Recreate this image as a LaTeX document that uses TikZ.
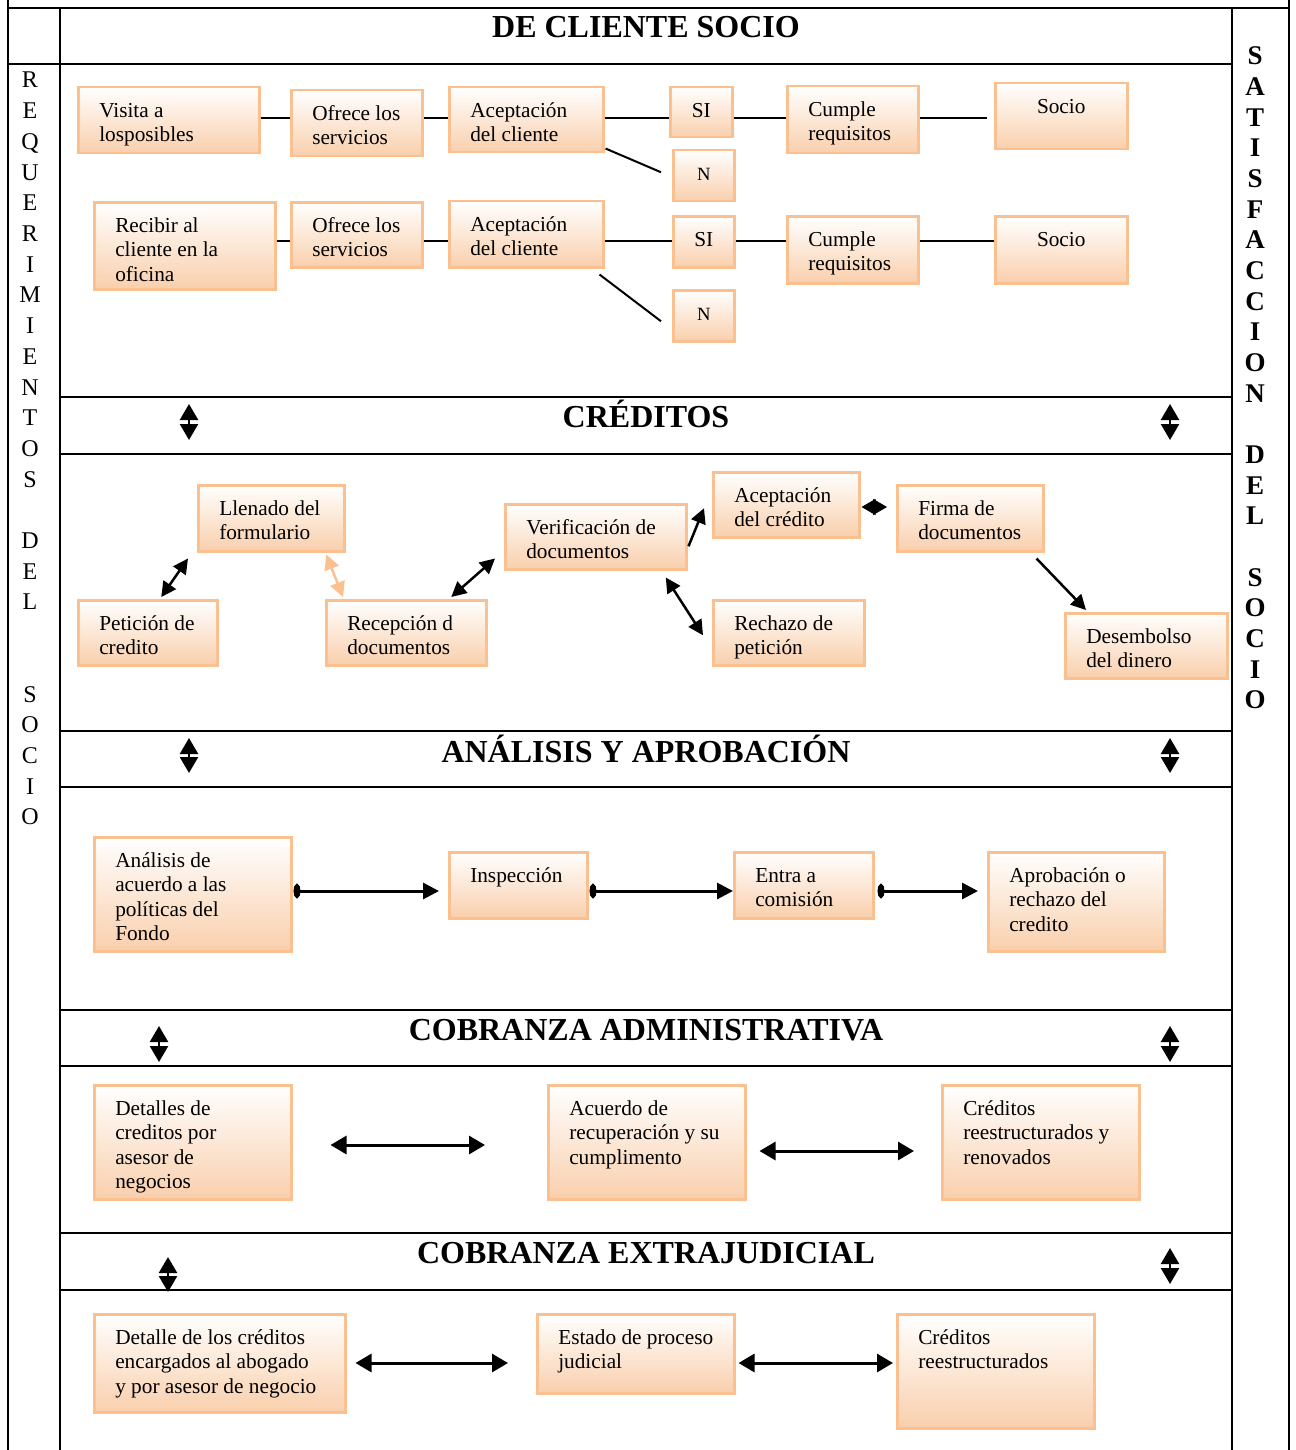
\documentclass[tikz,border=0pt]{standalone}
\usepackage{fontspec}
\setmainfont{Liberation Serif}
\usetikzlibrary{arrows.meta,calc}
\definecolor{bbord}{RGB}{250,192,143}
\definecolor{bfill}{RGB}{249,207,172}
\newcommand{\LA}{\raggedright\leftskip=21pt\relax\hyphenpenalty=10000 }
\newcommand{\CA}{\centering}
\newcommand{\bx}[7]{%
  \pgfmathsetmacro{\bw}{#4-#2}\pgfmathsetmacro{\bh}{#5-#3}%
  \node[box, minimum width=\bw pt, minimum height=\bh pt] (#1) at (#2,#3)
    {\parbox[t][\bh pt][t]{\bw pt}{#6\rule{0pt}{30pt}#7}};}
\tikzset{
  box/.style={draw=bbord, line width=2.5pt, top color=white, bottom color=bfill,
    inner sep=0pt, anchor=north west, font=\fontsize{21.3}{24.5}\selectfont},
  tbl/.style={line width=2.6pt},
  ln/.style={line width=2pt},
  ttl/.style={anchor=base, font=\bfseries\fontsize{32}{38}\selectfont},
  lletter/.style={anchor=base, font=\fontsize{24}{28}\selectfont},
  rletter/.style={anchor=base, font=\bfseries\fontsize{27}{30}\selectfont},
  dar/.style={line width=2.5pt, {Triangle[length=15pt,width=15pt]}-{Triangle[length=15pt,width=15pt]}},
  sar/.style={line width=2.5pt, -{Triangle[length=15pt,width=15pt]}},
  vdar/.style={line width=2.5pt, {Triangle[length=16pt,width=18pt]}-{Triangle[length=16pt,width=18pt]}},
  hdar/.style={line width=3pt, {Triangle[length=16pt,width=18pt]}-{Triangle[length=16pt,width=18pt]}},
  tar/.style={line width=3pt, {Circle[length=7pt,width=14pt]}-{Triangle[length=16pt,width=16pt]}},
  dia/.style={line width=1pt, {Triangle[length=14pt,width=16pt]}-{Triangle[length=14pt,width=16pt]}},
}
\begin{document}
\begin{tikzpicture}[x=1pt,y=-1pt]
\useasboundingbox (0,0) rectangle (1295,1450);
% table frame
\draw[tbl] (8,0) -- (8,1450);
\draw[tbl] (1289,0) -- (1289,1450);
\draw[tbl] (8,8) -- (1289,8);
\draw[tbl] (60,8) -- (60,1450);
\draw[tbl] (1232,8) -- (1232,1450);
\draw[tbl] (8,64) -- (1232,64);
\foreach \yy in {397,454,731,787,1010,1066,1233,1290}
  \draw[tbl] (60,\yy) -- (1232,\yy);
% titles
\node[ttl] (t0) at (646,38) {DE CLIENTE SOCIO};
\node[ttl] (t1) at (646,427) {CRÉDITOS};
\node[ttl] (t2) at (646,762) {ANÁLISIS Y APROBACIÓN};
\node[ttl] (t3) at (646,1040) {COBRANZA ADMINISTRATIVA};
\node[ttl] (t4) at (646,1263) {COBRANZA EXTRAJUDICIAL};
% side letters
\foreach \ch [count=\i from 0] in {R,E,Q,U,E,R,I,M,I,E,N,T,O,S,{},D,E,L,{},{},S,O,C,I,O}
  \node[lletter] (L\i) at (30,88+30.7*\i) {\ch};
\foreach \ch [count=\i from 0] in {S,A,T,I,S,F,A,C,C,I,O,N,{},D,E,L,{},S,O,C,I,O}
  \node[rletter] (R\i) at (1255,65+30.65*\i) {\ch};
% band arrows
\foreach \xx/\ya/\yb [count=\k] in {189/404/440,1170/404/440,189/738/773,1170/738/773,159/1026/1062,1170/1026/1062,168/1257/1292,1170/1248/1284}{
  \coordinate (ba\k) at (\xx,\ya); \coordinate (bb\k) at (\xx,\yb);
  \draw[vdar] (ba\k) -- (bb\k);}
% ---- top section
\bx{visita}{77}{86}{258}{152}{\LA}{Visita a\\losposibles}
\bx{ofreceA}{290}{89}{421}{155}{\LA}{Ofrece los\\servicios}
\bx{aceptA}{448}{86}{602}{151}{\LA}{Aceptación\\del cliente}
\bx{siA}{669}{86}{731}{136}{\CA}{SI}
\bx{nA}{672}{149}{733}{200}{\CA}{\fontsize{18.7}{22}\selectfont N}
\bx{cumpleA}{786}{85}{917}{152}{\LA}{Cumple\\requisitos}
\bx{socioA}{994}{82}{1126}{148}{\CA}{Socio}
\bx{recibir}{93}{201}{274}{288}{\LA}{Recibir al\\cliente en la\\oficina}
\bx{ofreceB}{290}{201}{421}{266}{\LA}{Ofrece los\\servicios}
\bx{aceptB}{448}{200}{602}{266}{\LA}{Aceptación\\del cliente}
\bx{siB}{672}{215}{733}{266}{\CA}{SI}
\bx{nB}{672}{289}{733}{340}{\CA}{\fontsize{18.7}{22}\selectfont N}
\bx{cumpleB}{786}{215}{917}{282}{\LA}{Cumple\\requisitos}
\bx{socioB}{994}{215}{1126}{282}{\CA}{Socio}
\coordinate (r1) at (0,118);
\coordinate (r2) at (0,240.5);
\draw[ln] (visita.east |- r1) -- (ofreceA.west |- r1);
\draw[ln] (ofreceA.east |- r1) -- (aceptA.west |- r1);
\draw[ln] (aceptA.east |- r1) -- (siA.west |- r1);
\draw[ln] (siA.east |- r1) -- (cumpleA.west |- r1);
\draw[ln, shorten >=7pt] (cumpleA.east |- r1) -- (socioA.west |- r1);
\draw[ln] ($(aceptA.south east)+(1,-5)$) -- ($(nA.west)+(-11,-3.5)$);
\draw[ln] (recibir.east |- r2) -- (ofreceB.west |- r2);
\draw[ln] (ofreceB.east |- r2) -- (aceptB.west |- r2);
\draw[ln] (aceptB.east |- r2) -- (siB.west |- r2);
\draw[ln] (siB.east |- r2) -- (cumpleB.west |- r2);
\draw[ln] (cumpleB.east |- r2) -- (socioB.west |- r2);
\draw[ln] ($(aceptB.south east)+(-5,6)$) -- ($(nB.west)+(-11,5.5)$);
% ---- creditos
\bx{peticion}{77}{599}{216}{664}{\LA}{Petición de\\credito}
\bx{llenado}{197}{484}{343}{550}{\LA}{Llenado del\\formulario}
\bx{recepcion}{325}{599}{485}{664}{\LA}{Recepción d\\documentos}
\bx{verif}{504}{503}{685}{568}{\LA}{Verificación de\\documentos}
\bx{aceptC}{712}{471}{858}{536}{\LA}{Aceptación\\del crédito}
\bx{rechazo}{712}{599}{863}{664}{\LA}{Rechazo de\\petición}
\bx{firma}{896}{484}{1042}{550}{\LA}{Firma de\\documentos}
\bx{desemb}{1064}{612}{1226}{677}{\LA}{Desembolso\\del dinero}
\draw[dar] ($(peticion.north)+(13.5,-2)$) -- ($(llenado.south west)+(-9,6)$);
\draw[dar, draw=bbord, fill=bbord] ($(llenado.south)+(55,2)$) -- ($(recepcion.north west)+(18,-2)$);
\draw[dar] ($(recepcion.north)+(45,-2)$) -- ($(verif.south west)+(-9,-12)$);
\draw[sar] ($(verif.east)+(1,9.5)$) -- ($(aceptC.west)+(-8,3.5)$);
\draw[dar] ($(verif.south)+(70,7)$) -- ($(rechazo.west)+(-9,2.5)$);
\coordinate (yD) at (0,507);
\draw[dia, shorten <=1pt, shorten >=9pt] (aceptC.east |- yD) -- (firma.west |- yD);
\draw[sar] ($(firma.south east)+(-8,6)$) -- ($(desemb.north west)+(22,-2)$);
% ---- analisis
\bx{analisis}{93}{836}{290}{950}{\LA}{Análisis de\\acuerdo a las\\políticas del\\Fondo}
\bx{inspec}{448}{851}{586}{917}{\LA}{Inspección}
\bx{entra}{733}{851}{872}{917}{\LA}{Entra a\\comisión}
\bx{aprob}{987}{851}{1163}{950}{\LA}{Aprobación o\\rechazo del\\credito}
\coordinate (yA) at (0,891);
\draw[tar, shorten <=1pt, shorten >=9pt] (analisis.east |- yA) -- (inspec.west |- yA);
\draw[tar, shorten <=1pt] (inspec.east |- yA) -- (entra.west |- yA);
\draw[tar, shorten <=3pt, shorten >=9pt] (entra.east |- yA) -- (aprob.west |- yA);
% ---- cobranza administrativa
\bx{detalles}{93}{1084}{290}{1198}{\LA}{Detalles de\\creditos por\\asesor de\\negocios}
\bx{acuerdo}{547}{1084}{744}{1198}{\LA}{Acuerdo de\\recuperación y su\\cumplimento}
\bx{credA}{941}{1084}{1138}{1198}{\LA}{Créditos\\reestructurados y\\renovados}
\coordinate (yC1) at (0,1145);
\coordinate (yC2) at (0,1151);
\draw[hdar, shorten <=38pt, shorten >=62pt] (detalles.east |- yC1) -- (acuerdo.west |- yC1);
\draw[hdar, shorten <=13pt, shorten >=27pt] (acuerdo.east |- yC2) -- (credA.west |- yC2);
% ---- cobranza extrajudicial
\bx{detalle}{93}{1313}{344}{1411}{\LA}{Detalle de los créditos\\encargados al abogado\\y por asesor de negocio}
\bx{estado}{536}{1313}{733}{1392}{\LA}{Estado de proceso\\judicial}
\bx{credB}{896}{1313}{1093}{1427}{\LA}{Créditos\\reestructurados}
\coordinate (yE) at (0,1363);
\draw[hdar, shorten <=9pt, shorten >=28pt] (detalle.east |- yE) -- (estado.west |- yE);
\draw[hdar, shorten <=3pt, shorten >=3pt] (estado.east |- yE) -- (credB.west |- yE);
\end{tikzpicture}
\end{document}
